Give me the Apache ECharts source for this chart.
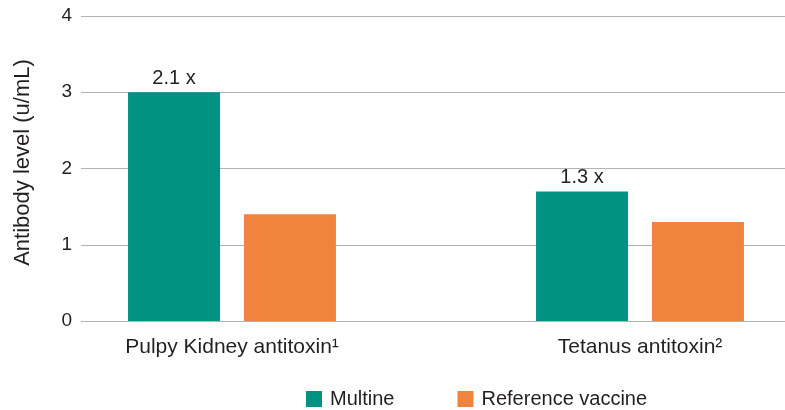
<!DOCTYPE html>
<html>
<head>
<meta charset="utf-8">
<script src="https://cdn.jsdelivr.net/npm/echarts@6/dist/echarts.min.js"></script>
<style>
  html, body { margin: 0; padding: 0; background: #fff; }
  #chart { width: 785px; height: 410px; }
</style>
</head>
<body>
<div id="chart"></div>
<script>
const categories = ['Pulpy Kidney antitoxin\u00B9', 'Tetanus antitoxin\u00B2'];
const multine = [3.0, 1.7];
const referenceVaccine = [1.4, 1.3];
const ratioLabels = ['2.1 x', '1.3 x'];
const yTicks = [0, 1, 2, 3, 4];

const textColor = '#231f20';
const font = 'Liberation Sans';

const chart = echarts.init(document.getElementById('chart'), null, { renderer: 'canvas' });

const option = {
  animation: false,
  textStyle: { fontFamily: font, color: textColor },
  legend: {
    left: 306,
    top: 389,
    padding: 0,
    itemWidth: 16,
    itemHeight: 16,
    itemGap: 63,
    icon: 'rect',
    textStyle: { fontFamily: font, fontSize: 20, color: textColor, padding: [0, 0, 0, 3] },
    data: ['Multine', 'Reference vaccine'],
  },
  grid: [
    // grid 0: y axis labels and gridlines over the full width
    { left: 81, right: 0, top: 16, bottom: 89, outerBoundsMode: 'none' },
    // grid 1: bars and category labels, wider than the canvas so the bands fall in place
    { left: 28, width: 816, top: 16, bottom: 89, outerBoundsMode: 'none' },
  ],
  xAxis: [
    { gridIndex: 0, type: 'category', data: categories, show: false },
    {
      gridIndex: 1,
      type: 'category',
      data: categories,
      axisLine: { show: false },
      axisTick: { show: false },
      axisLabel: { fontFamily: font, fontSize: 21, color: textColor, margin: 16 },
    },
  ],
  yAxis: [
    {
      gridIndex: 0,
      type: 'value',
      min: yTicks[0],
      max: yTicks[yTicks.length - 1],
      interval: 1,
      name: 'Antibody level (u/mL)',
      nameLocation: 'middle',
      nameGap: 47,
      nameTextStyle: { fontFamily: font, fontSize: 22, color: textColor, padding: [0, 0, 0, 12] },
      axisLine: { show: false },
      axisTick: { show: false },
      axisLabel: { fontFamily: font, fontSize: 19, color: textColor, margin: 9 },
      splitLine: { lineStyle: { color: '#b3b3b3', width: 1 } },
    },
    { gridIndex: 1, type: 'value', min: 0, max: 4, interval: 1, show: false, splitLine: { show: false } },
  ],
  series: [
    {
      name: 'Multine',
      type: 'bar',
      xAxisIndex: 1,
      yAxisIndex: 1,
      data: multine,
      barWidth: 92,
      barGap: '26%',
      itemStyle: { color: '#009282' },
      label: {
        show: true,
        position: 'top',
        distance: 4,
        fontFamily: font,
        fontSize: 20,
        color: textColor,
        formatter: (p) => ratioLabels[p.dataIndex],
      },
    },
    {
      name: 'Reference vaccine',
      type: 'bar',
      xAxisIndex: 1,
      yAxisIndex: 1,
      data: referenceVaccine,
      barWidth: 92,
      itemStyle: { color: '#f0833e' },
    },
  ],
};

chart.setOption(option);
</script>
</body>
</html>
